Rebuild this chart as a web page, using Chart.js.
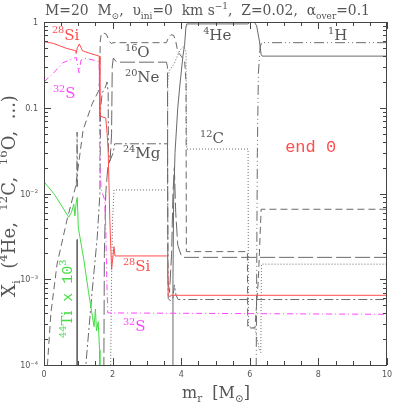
<!DOCTYPE html>
<html><head><meta charset="utf-8">
<script src="https://cdn.jsdelivr.net/npm/chart.js@4"></script>
<style>html,body{margin:0;padding:0;background:#fff}canvas{display:block}</style>
</head><body>
<canvas id="c" width="409" height="409"></canvas>
<script>
// ---- data: mass coordinate m_r [Msun], mass fraction X_i ----
const H1 = [[6.18,3e-5],[6.2,1e-3],[6.22,0.03],[6.25,0.25],[6.3,0.5],[6.34,0.574],[10,0.574]];
const He4 = [[0.955,3e-5],[0.965,2.9e-3],[0.975,3e-5],null,
  [3.74,3e-5],[3.76,1e-3],[3.78,0.008],[3.82,0.03],[3.9,0.1],[3.96,0.18],[4.05,0.4],[4.1,0.55],[4.14,0.9],[4.16,0.95],
  [5.95,0.95],[6.0,0.99],[6.05,1.0],[6.13,1.0],[6.2,0.9],[6.28,0.6],[6.33,0.42],[6.36,0.40],[10,0.40]];
const C12 = [[1.93,3e-5],[1.97,1e-3],[2.0,5e-3],[2.04,0.011],[3.6,0.011],[3.61,0.2],[3.65,0.27],[3.8,0.33],[3.96,0.47],
  [4.08,0.52],[4.14,0.45],[4.16,0.033],[5.95,0.033],[5.96,2.8e-4],[6.15,2.7e-4],[6.28,1.5e-4],[6.32,1.4e-4],[6.34,1.5e-3],[10,1.5e-3]];
const O16 = [[0.06,3e-5],[0.1,1e-4],[0.2,4e-4],[0.38,1.5e-3],[0.67,4.9e-3],[0.92,0.012],[1.14,0.055],[1.4,0.11],[1.58,0.154],
  [1.62,0.2],[1.64,0.6],[1.67,0.73],[1.75,0.74],[1.82,0.72],[1.9,0.6],[1.96,0.56],[2.01,0.574],[3.57,0.574],[3.63,0.66],
  [3.7,0.71],[3.78,0.7],[3.84,0.6],[3.9,0.45],[4.0,0.4],[4.1,0.35],[4.14,0.2],[4.15,2.1e-3],[5.93,2.1e-3],[5.94,2.7e-4],
  [6.15,2.7e-4],[6.25,1e-3],[6.33,6.55e-3],[10,6.55e-3]];
const Ne20 = [[1.74,3e-5],[1.76,2e-3],[1.8,0.01],[1.86,0.02],[1.93,0.025],[1.97,0.05],[1.99,0.3],[2.02,0.38],[2.07,0.36],
  [2.12,0.34],[3.57,0.34],[3.6,0.3],[3.61,1e-3],[3.66,7e-4],[3.72,2e-3],[3.76,0.01],[3.8,0.02],[3.84,6e-3],[3.9,2.5e-3],
  [4.0,1.9e-3],[4.06,1.8e-3],[10,1.8e-3]];
const Mg24 = [[0.955,0.012],[0.965,0.052],[0.975,0.012],null,
  [1.2,3e-5],[1.22,1e-4],[1.4,7e-4],[1.55,3e-3],[1.63,0.01],[1.65,0.1],[1.7,0.15],[1.78,0.17],[1.84,0.2],[1.87,0.15],
  [1.88,0.03],[1.92,0.024],[2.02,0.03],[2.06,0.038],[3.6,0.038],[3.62,6e-4],[3.68,5.6e-4],[3.76,6e-4],[3.8,8.6e-4],
  [3.85,6.5e-4],[3.91,5.8e-4],[10,5.8e-4]];
const Si28 = [[0,0.589],[0.27,0.564],[0.65,0.493],[0.92,0.463],[0.94,0.43],[0.97,0.5],[1.03,0.554],[1.12,0.463],[1.33,0.432],
  [1.61,0.40],[1.63,0.08],[1.8,0.076],[1.84,0.05],[1.87,0.032],[1.92,4.9e-3],[1.97,1.3e-3],[2.04,2.4e-3],[2.07,1.87e-3],
  [3.6,1.87e-3],[3.62,6.5e-4],[3.66,6.2e-4],[3.7,6.5e-4],[10,6.5e-4]];
const S32 = [[0,0.2],[0.27,0.252],[0.55,0.335],[0.8,0.367],[0.94,0.387],[1.02,0.256],[1.08,0.36],[1.24,0.377],[1.61,0.345],
  [1.63,0.02],[1.67,0.011],[1.77,8.4e-3],[1.8,4e-3],[1.83,1e-3],[1.86,4.05e-4],[10,3.9e-4]];
const Ti44x1e3 = [[0,0.0137],[0.3,0.0098],[0.55,0.0068],[0.72,0.0053],[0.8,0.006],[0.87,0.0075],[0.9,0.0055],[0.95,0.0085],
  [0.97,0.009],[1.0,0.004],[1.16,0.0017],[1.3,7e-4],[1.46,2.8e-4],[1.5,4.5e-4],[1.53,2.5e-4],[1.58,3.2e-4],[1.62,1.5e-4],[1.63,3e-5]];

const xMajorTicks = [0,2,4,6,8,10];
const xTickLabels = ['0','2','4','6','8','10'];
const yMajorTicks = [1e-4,1e-3,1e-2,0.1,1];
const yTickLabels = ['10^−4','10^−3','10^−2','0.1','1'];

// ---- styles ----
const GRAY='#6a6a6a', RED='#ff4d4d', MAG='#ff45ff', GRN='#45dd45', TXT='#555555';
const SERIF='"DejaVu Serif"', MONO='"Liberation Mono"', SANS='"DejaVu Sans"';

function toPts(arr){ return arr.map((p,i)=> p ? {x:p[0],y:p[1]} : {x:arr[i-1][0],y:null}); }
const specs = [
  [Si28, RED, []],
  [S32, MAG, [6,3,1,3]],
  [Ti44x1e3, GRN, []],
  [H1, GRAY, [10,3,1,3,1,3]],
  [He4, GRAY, []],
  [C12, GRAY, [1,2]],
  [O16, GRAY, [7,4]],
  [Ne20, GRAY, [15,4]],
  [Mg24, GRAY, [9,3,2,3]]
];
const datasets = specs.map(s=>({data:toPts(s[0]), borderColor:s[1], borderDash:s[2], borderWidth:1,
  pointRadius:0, tension:0, spanGaps:false, fill:false}));

function drawRich(ctx, parts, x, y, size, family, color, align, measureOnly){
  const seg = parts.map(p=>{
    const s = p[1] ? size*0.65 : size; const f = p[2]||family;
    ctx.font = s+'px '+f;
    return {t:p[0], s, f, dy: p[1]===1 ? -size*0.42 : (p[1]===-1 ? size*0.28 : 0), w: ctx.measureText(p[0]).width};
  });
  const total = seg.reduce((a,b)=>a+b.w,0);
  if (measureOnly) return total;
  let cx = align==='center' ? x-total/2 : (align==='right' ? x-total : x);
  ctx.fillStyle=color; ctx.textBaseline='alphabetic'; ctx.textAlign='left';
  for (const s of seg){ ctx.font = s.s+'px '+s.f; ctx.fillText(s.t, cx, y+s.dy); cx += s.w; }
  return total;
}
function drawFit(ctx, parts, x, y, width, family, color, align){
  const w0 = drawRich(ctx, parts, 0,0, 20, family, color, align, true);
  const size = 20*width/w0;
  drawRich(ctx, parts, x, y, size, family, color, align);
}

const isoLabels = [
  {parts:[['28',1],['Si',0]], x:0.23, y:0.625, color:RED},
  {parts:[['32',1],['S',0]], x:0.26, y:0.13, color:MAG},
  {parts:[['16',1],['O',0]], x:2.36, y:0.391, color:TXT},
  {parts:[['20',1],['Ne',0]], x:2.36, y:0.2, color:TXT},
  {parts:[['4',1],['He',0]], x:4.64, y:0.617, color:TXT},
  {parts:[['1',1],['H',0]], x:8.28, y:0.617, color:TXT},
  {parts:[['12',1],['C',0]], x:4.55, y:0.0388, color:TXT},
  {parts:[['24',1],['Mg',0]], x:2.30, y:0.026, color:TXT},
  {parts:[['28',1],['Si',0]], x:2.30, y:1.25e-3, color:RED},
  {parts:[['32',1],['S',0]], x:2.30, y:2.5e-4, color:MAG}
];

const decor = {
  id:'decor',
  beforeDraw(chart){ const c=chart.ctx; c.save(); c.fillStyle='#fff'; c.fillRect(0,0,chart.width,chart.height); c.restore(); },
  afterDraw(chart){
    const ctx=chart.ctx, a=chart.chartArea, xs=chart.scales.x, ys=chart.scales.y;
    ctx.save();
    ctx.strokeStyle='#444'; ctx.lineWidth=1; ctx.setLineDash([]);
    ctx.strokeRect(a.left+0.5, a.top+0.5, a.right-a.left-1, a.bottom-a.top);
    const seg=(x1,y1,x2,y2)=>{ctx.beginPath();ctx.moveTo(x1,y1);ctx.lineTo(x2,y2);ctx.stroke();};
    // x ticks (inward, top and bottom)
    for (let i=0;i<=20;i++){
      const v=i*0.5, px=Math.round(xs.getPixelForValue(v))+0.5;
      const len = xMajorTicks.includes(v) ? 7 : 4;
      seg(px,a.bottom,px,a.bottom-len); seg(px,a.top,px,a.top+len);
    }
    // y ticks (log)
    for (let e=-4;e<=0;e++) for (let m=1;m<=9;m++){
      const v=m*Math.pow(10,e); if (v>1.0001) break;
      const py=Math.round(ys.getPixelForValue(v))+0.5;
      const len = m===1 ? 7 : 4;
      seg(a.left,py,a.left+len,py); seg(a.right,py,a.right-len,py);
    }
    // tick labels
    xMajorTicks.forEach((v,i)=>drawRich(ctx,[[xTickLabels[i],0]], xs.getPixelForValue(v), a.bottom+12, 8, SANS, TXT, 'center'));
    yMajorTicks.forEach((v,i)=>{
      const t=yTickLabels[i].split('^');
      const parts = t.length>1 ? [[t[0],0],[t[1],1]] : [[t[0],0]];
      drawRich(ctx, parts, a.left-6, ys.getPixelForValue(v)+3, 8, SANS, TXT, 'right');
    });
    // title
    drawFit(ctx, [['M=20  M',0],['⊙',-1],[',  ',0],['υ',0],['ini',-1],['=0  km s',0],['−1',1],[',  Z=0.02,  ',0],['α',0],['over',-1],['=0.1',0]],
      207.5, 15, 325, SERIF, TXT, 'center');
    // x label
    drawFit(ctx, [['m',0],['r',-1],['  [M',0],['⊙',-1],[']',0]], 216, 398, 68, SERIF, TXT, 'center');
    // y label
    ctx.save(); ctx.translate(15,196); ctx.rotate(-Math.PI/2);
    drawFit(ctx, [['X',0],['i',-1],['  (',0],['4',1],['He,  ',0],['12',1],['C,  ',0],['16',1],['O,  ...)',0]], 0, 0, 202, SERIF, TXT, 'center');
    ctx.restore();
    // isotope labels
    isoLabels.forEach(l=>drawRich(ctx, l.parts, xs.getPixelForValue(l.x), ys.getPixelForValue(l.y), 15, SERIF, l.color, 'left'));
    // end 0
    drawRich(ctx, [['end 0',0]], xs.getPixelForValue(7.03), ys.getPixelForValue(0.0305), 17, MONO, RED, 'left');
    // 44Ti x 10^3 (rotated)
    ctx.save(); ctx.translate(xs.getPixelForValue(0.82), ys.getPixelForValue(2.07e-4)); ctx.rotate(-Math.PI/2);
    drawRich(ctx, [['44',1],['Ti',0],[' x 10',0,MONO],['3',1]], 0, 0, 15, SERIF, GRN, 'left');
    ctx.restore();
    ctx.restore();
  }
};

new Chart(document.getElementById('c'), {
  type:'line',
  data:{datasets},
  options:{
    responsive:false, animation:false, devicePixelRatio:1,
    layout:{padding:{left:44,right:22,top:22,bottom:44}},
    plugins:{legend:{display:false}, tooltip:{enabled:false}, title:{display:false}},
    scales:{
      x:{type:'linear', min:0, max:10, display:false},
      y:{type:'logarithmic', min:1e-4, max:1, display:false}
    }
  },
  plugins:[decor]
});
</script></body></html>
